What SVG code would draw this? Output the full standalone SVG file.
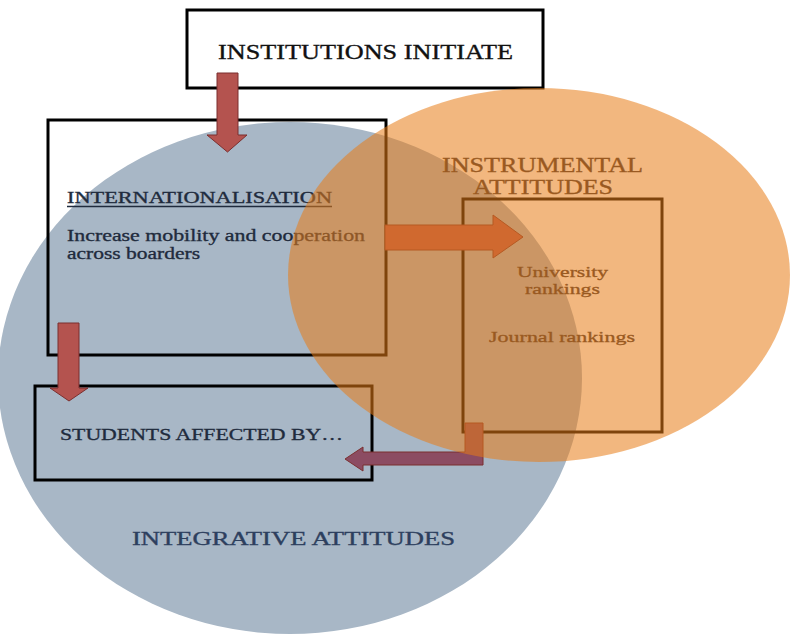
<svg xmlns="http://www.w3.org/2000/svg" width="791" height="634" viewBox="0 0 791 634">
<style>
.box{fill:none;stroke:#000;stroke-width:3}
.t{font-family:"Liberation Serif","Times New Roman",serif;stroke-width:0.35}
.dark{fill:#1f2b3d;stroke:#1f2b3d}
.navy{fill:#2d3f5e;stroke:#2d3f5e}
.under{fill:#3a3030;stroke:#3a3030}
.arr{fill:#b4534f;stroke:#7b2f2f;stroke-width:1}
</style>
<rect width="791" height="634" fill="#fff"/>
<ellipse id="integrative-circle" cx="290" cy="378" rx="292" ry="256" fill="#a8b7c6"/>
<g id="institutions">
<rect x="187" y="10" width="356" height="78" fill="#fff" stroke="#000" stroke-width="3"/>
<text class="t" x="218" y="59" font-size="21.5" textLength="295" lengthAdjust="spacingAndGlyphs" fill="#111" stroke="#111">INSTITUTIONS INITIATE</text>
</g>
<g id="internationalisation">
<rect class="box" x="48" y="120" width="338" height="235"/>
<text class="t dark" x="67" y="203" font-size="16" textLength="265" lengthAdjust="spacingAndGlyphs">INTERNATIONALISATION</text>
<line x1="67" y1="206.5" x2="332" y2="206.5" stroke="#1f2b3d" stroke-width="1.4"/>
<text class="t dark" x="67" y="241" font-size="17" textLength="298" lengthAdjust="spacingAndGlyphs">Increase mobility and cooperation</text>
<text class="t dark" x="67" y="259" font-size="17" textLength="133" lengthAdjust="spacingAndGlyphs">across boarders</text>
</g>
<g id="instrumental">
<text class="t under" x="442" y="172" font-size="20" textLength="201" lengthAdjust="spacingAndGlyphs">INSTRUMENTAL</text>
<text class="t under" x="473" y="194" font-size="20" textLength="140" lengthAdjust="spacingAndGlyphs">ATTITUDES</text>
<rect class="box" x="463" y="199" width="199" height="233"/>
<text class="t under" x="517" y="277" font-size="15.5" textLength="91" lengthAdjust="spacingAndGlyphs">University</text>
<text class="t under" x="525" y="294" font-size="15.5" textLength="75" lengthAdjust="spacingAndGlyphs">rankings</text>
<text class="t under" x="489" y="342" font-size="15.5" textLength="146" lengthAdjust="spacingAndGlyphs">Journal rankings</text>
</g>
<g id="students">
<rect class="box" x="35" y="386" width="337" height="94"/>
<text class="t dark" x="60" y="440" font-size="17.5" textLength="283" lengthAdjust="spacingAndGlyphs">STUDENTS AFFECTED BY…</text>
</g>
<g id="integrative-label">
<text class="t navy" x="132" y="545" font-size="19" textLength="323" lengthAdjust="spacingAndGlyphs">INTEGRATIVE ATTITUDES</text>
</g>
<g id="connectors">
<polygon class="arr" points="217,73 238,73 238,135 247,135 227.5,152 207,135 217,135"/>
<polygon class="arr" points="385,225 493,225 493,215 523,237 493,258 493,250 385,250"/>
<polygon class="arr" points="58,323 79,323 79,388 88,388 69,401 50,388 58,388"/>
<polygon class="arr" fill="#8c4c62" style="fill:#8c4c62" points="465,423 483,423 483,465 363,465 363,471 345,459 363,447 363,452 465,452"/>
</g>
<ellipse id="instrumental-circle" cx="539" cy="275" rx="251" ry="187" fill="#e77c16" fill-opacity="0.55"/>
</svg>
